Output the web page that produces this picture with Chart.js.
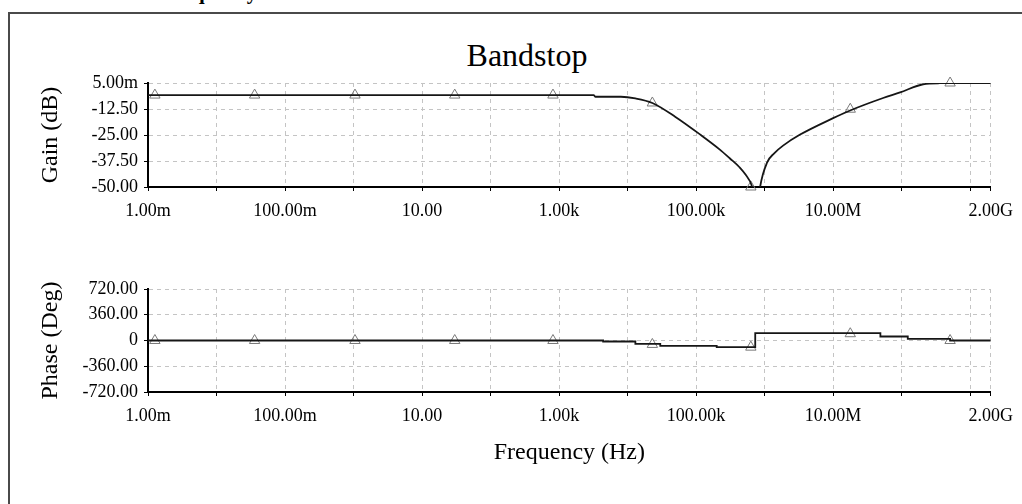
<!DOCTYPE html>
<html>
<head>
<meta charset="utf-8">
<title>Bandstop</title>
<script src="https://cdn.jsdelivr.net/npm/chart.js@4/dist/chart.umd.min.js"></script>
<style>
  body { margin: 0; background: #fff; }
  #page { position: relative; width: 1022px; height: 504px; overflow: hidden; font-family: 'Liberation Serif', serif; color: #000; }
  #heading { position: absolute; left: 162px; top: -18px; font: bold 21px 'Liberation Serif', serif; line-height: 21px; white-space: nowrap; }
  #frame { position: absolute; left: 8px; top: 12px; width: 1040px; height: 540px; border: 2px solid #4a4a4a; }
  #title { position: absolute; left: 407px; width: 240px; top: 36px; text-align: center; font-size: 32px; line-height: 38px; }
  canvas { position: absolute; left: 0; }
</style>
</head>
<body>
<div id="page">
  <div id="heading">Frequency</div>
  <div id="frame"></div>
  <div id="title">Bandstop</div>
  <canvas id="gainChart" width="1022" height="240" style="top:0"></canvas>
  <canvas id="phaseChart" width="1022" height="264" style="top:240px"></canvas>
</div>
<script>
// gain curve (Hz, dB)
const gainFreq = [1e-3, 3.2e3, 3.4e3, 8e3, 1.3e4, 2.3e4, 5e4, 1.15e5, 2.2e5, 3.15e5, 4.3e5, 5.2e5, 6.6e5, 7.8e5, 8.6e5, 1.09e6, 1.38e6, 1.86e6, 3.3e6, 1e7, 1.77e7, 5.37e7, 9.5e7, 2.06e8, 3.6e8, 2e9];
const gainDb = [-5.8, -5.8, -6.6, -6.6, -7.4, -9.6, -16.3, -24.8, -31.9, -36.4, -40.5, -43.8, -50, -62, -50, -38.2, -33.8, -30.1, -24.8, -16.9, -13.2, -7.2, -4.5, -0.6, -0.1, 0];

// phase steps (Hz, deg), each value holds until the next frequency
const phaseFreq = [1e-3, 4.4e3, 1.3e4, 3e4, 2e5, 7.3e5, 4.9e7, 1.23e8, 5.1e8, 2e9];
const phaseDeg = [0, -14, -47, -75, -93, 103, 56, 23, 0, 0];

// cursor markers
const markFreq = [1.26e-3, 3.6e-2, 1.05, 30, 815, 2.3e4, 6.3e5, 1.78e7, 5.1e8];
const markGain = [-5.8, -5.8, -5.8, -5.8, -5.8, -9.6, -50, -12.6, 0];
const markPhase = [0, 0, 0, 0, 0, -55, -93, 95, 0];

const freqTicks = [1e-3, 1e-2, 1e-1, 1, 10, 1e2, 1e3, 1e4, 1e5, 1e6, 1e7, 1e8, 1e9, 2e9];
const freqTickLabels = ['1.00m', '', '100.00m', '', '10.00', '', '1.00k', '', '100.00k', '', '10.00M', '', '', '2.00G'];
const gainTicks = [-50, -37.5, -25, -12.5, 0.005];
const gainTickLabels = ['-50.00', '-37.50', '-25.00', '-12.50', '5.00m'];
const phaseTicks = [-720, -360, 0, 360, 720];
const phaseTickLabels = ['-720.00', '-360.00', '0', '360.00', '720.00'];

const tickFont = { family: "'Liberation Serif', serif", size: 18 };
const titleFont = { family: "'Liberation Serif', serif", size: 24 };

function points(xs, ys) {
    return xs.map((x, i) => ({ x: x, y: ys[i] }));
}

const gridOpts = { color: '#c4c4c4', tickColor: '#000', tickLength: 4, tickBorderDash: [] };
const borderOpts = { color: '#000', width: 2, dash: [4, 4] };

function freqAxis(height, title) {
    return {
        type: 'logarithmic',
        min: 1e-3,
        max: 2e9,
        afterBuildTicks: function(scale) {
            scale.ticks = freqTicks.map(v => ({ value: v }));
        },
        afterFit: function(scale) {
            scale.height = height;
        },
        ticks: {
            autoSkip: false,
            maxRotation: 0,
            padding: 9,
            color: '#000',
            font: tickFont,
            callback: (v, i) => freqTickLabels[i]
        },
        grid: gridOpts,
        border: borderOpts,
        title: {
            display: !!title,
            text: title,
            color: '#000',
            font: titleFont,
            padding: { top: 0, bottom: 37 }
        }
    };
}

function valueAxis(ticks, labels, min, max, title) {
    return {
        min: min,
        max: max,
        afterBuildTicks: function(scale) {
            scale.ticks = ticks.map(v => ({ value: v }));
        },
        afterFit: function(scale) {
            scale.width = 116;
        },
        ticks: {
            padding: 6,
            color: '#000',
            font: tickFont,
            callback: (v, i) => labels[i]
        },
        grid: gridOpts,
        border: borderOpts,
        title: {
            display: true,
            text: title,
            color: '#000',
            font: titleFont,
            padding: { top: 4, bottom: 4 }
        }
    };
}

function plot(id, lineData, markData, stepped, yAxis, xAxis, padTop) {
    return new Chart(document.getElementById(id), {
        type: 'line',
        data: {
            datasets: [{
                data: lineData,
                borderColor: '#161616',
                borderWidth: 1.8,
                pointRadius: 0,
                stepped: stepped,
                cubicInterpolationMode: stepped ? 'default' : 'monotone'
            }, {
                data: markData,
                showLine: false,
                clip: false,
                pointStyle: 'triangle',
                pointRadius: 6,
                pointBorderColor: '#7a7a7a',
                pointBackgroundColor: 'rgba(255,255,255,0)',
                pointBorderWidth: 1
            }]
        },
        options: {
            responsive: false,
            animation: false,
            devicePixelRatio: 1,
            layout: { padding: { top: padTop, left: 32, right: 31, bottom: 0 } },
            plugins: {
                legend: { display: false },
                tooltip: { enabled: false }
            },
            scales: {
                x: xAxis,
                y: yAxis
            }
        }
    });
}

plot('gainChart', points(gainFreq, gainDb), points(markFreq, markGain), false,
    valueAxis(gainTicks, gainTickLabels, -50, 0.005, 'Gain (dB)'), freqAxis(53, ''), 83);

plot('phaseChart', points(phaseFreq, phaseDeg), points(markFreq, markPhase), true,
    valueAxis(phaseTicks, phaseTickLabels, -720, 720, 'Phase (Deg)'), freqAxis(112, 'Frequency (Hz)'), 49);
</script>
</body>
</html>
